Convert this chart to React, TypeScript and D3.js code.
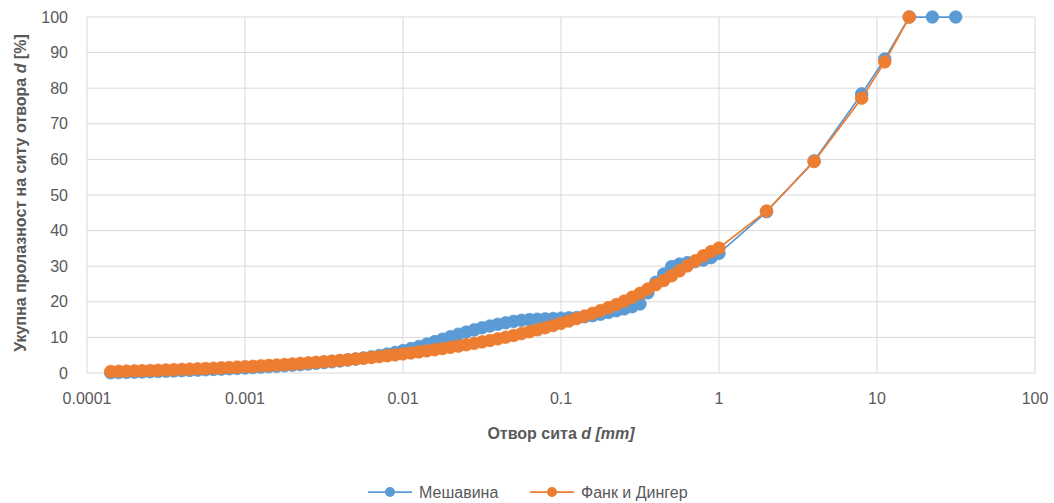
import * as d3 from 'd3';

const fineSizes = [
  1.413e-4, 1.585e-4, 1.778e-4, 1.995e-4, 2.239e-4, 2.512e-4, 2.818e-4, 3.162e-4, 3.548e-4, 3.981e-4,
  4.467e-4, 5.012e-4, 5.623e-4, 6.31e-4, 7.079e-4, 7.943e-4, 8.913e-4,
  0.001, 0.001122, 0.001259, 0.001413, 0.001585, 0.001778, 0.001995, 0.002239, 0.002512, 0.002818,
  0.003162, 0.003548, 0.003981, 0.004467, 0.005012, 0.005623, 0.00631, 0.007079, 0.007943, 0.008913,
  0.01, 0.01122, 0.01259, 0.01413, 0.01585, 0.01778, 0.01995, 0.02239, 0.02512, 0.02818,
  0.03162, 0.03548, 0.03981, 0.04467, 0.05012, 0.05623, 0.0631, 0.07079, 0.07943, 0.08913,
  0.1, 0.1122, 0.1259, 0.1413, 0.1585, 0.1778, 0.1995, 0.2239, 0.2512, 0.2818,
  0.3162, 0.3548, 0.3981, 0.4467, 0.5012, 0.5623, 0.631, 0.7079, 0.7943, 0.8913, 1,
];

const mixFine = [
  0.07, 0.12, 0.18, 0.24, 0.3, 0.37, 0.43, 0.51, 0.58, 0.66,
  0.74, 0.82, 0.91, 1.0, 1.1, 1.2, 1.31,
  1.42, 1.53, 1.65, 1.78, 1.91, 2.05, 2.2, 2.36, 2.53, 2.72,
  2.92, 3.14, 3.38, 3.64, 3.92, 4.22, 4.55, 4.92, 5.32, 5.78,
  6.28, 6.85, 7.45, 8.1, 8.8, 9.5, 10.2, 10.9, 11.5, 12.1,
  12.7, 13.2, 13.7, 14.1, 14.5, 14.8, 15.0, 15.1, 15.2, 15.3,
  15.4, 15.5, 15.6, 15.8, 16.1, 16.5, 17.0, 17.5, 18.0, 18.6,
  19.4, 22.5, 25.5, 27.8, 29.9, 30.6, 31.0, 31.3, 31.7, 32.4, 33.6,
];

const fdFine = [
  0.42, 0.47, 0.53, 0.59, 0.65, 0.72, 0.78, 0.86, 0.93, 1.01,
  1.09, 1.17, 1.26, 1.35, 1.45, 1.55, 1.66,
  1.77, 1.88, 2.0, 2.13, 2.26, 2.39, 2.54, 2.69, 2.84, 3.01,
  3.18, 3.35, 3.54, 3.73, 3.94, 4.15, 4.37, 4.6, 4.84, 5.09,
  5.36, 5.63, 5.92, 6.22, 6.53, 6.86, 7.2, 7.56, 7.93, 8.32,
  8.73, 9.15, 9.6, 10.06, 10.54, 11.06, 11.59, 12.14, 12.72, 13.32,
  13.95, 14.6, 15.29, 16.01, 16.77, 17.54, 18.36, 19.22, 20.2, 21.3,
  22.4, 23.6, 24.8, 26.0, 27.3, 28.7, 30.1, 31.5, 32.9, 34.1, 35.1,
];

// sieve sizes (mm)
const coarseSizes = [2, 4, 8, 11.2, 16, 22.4, 31.5];
const mixCoarse = [45.3, 59.6, 78.4, 88.2, 100, 100, 100];
const fdCoarse = [45.5, 59.4, 77.2, 87.4, 100];

const xTicks = [0.0001, 0.001, 0.01, 0.1, 1, 10, 100];
const yTicks = [0, 10, 20, 30, 40, 50, 60, 70, 80, 90, 100];

const series = [
  {
    name: 'Мешавина',
    color: '#5B9BD5',
    points: [
      ...fineSizes.map((d, i) => [d, mixFine[i]]),
      ...coarseSizes.map((d, i) => [d, mixCoarse[i]]),
    ],
  },
  {
    name: 'Фанк и Дингер',
    color: '#ED7D31',
    points: [
      ...fineSizes.map((d, i) => [d, fdFine[i]]),
      ...fdCoarse.map((v, i) => [coarseSizes[i], v]),
    ],
  },
];

const W = 1054;
const H = 503;
const left = 87;
const right = 1035;
const top = 17;
const bottom = 373;
const font = '"Liberation Sans", Arial, sans-serif';
const textColor = '#595959';

export default function App() {
  const x = d3.scaleLog().domain([0.0001, 100]).range([left, right]);
  const y = d3.scaleLinear().domain([0, 100]).range([bottom, top]);
  const line = d3
    .line<number[]>()
    .x((p) => x(p[0]))
    .y((p) => y(p[1]));

  const fmt = (v: number) => (v < 1 ? v.toFixed(Math.round(-Math.log10(v))) : String(v));

  return (
    <svg
      width={W}
      height={H}
      style={{ position: 'absolute', left: 0, top: 0, background: '#fff' }}
      fontFamily={font}
    >
      <rect width={W} height={H} fill="#fff" />
      {/* grid */}
      {yTicks.map((t) => (
        <line key={'gy' + t} x1={left} x2={right} y1={y(t)} y2={y(t)} stroke="#d9d9d9" strokeWidth={1} />
      ))}
      {xTicks.map((t) => (
        <line key={'gx' + t} x1={x(t)} x2={x(t)} y1={top} y2={bottom} stroke="#d9d9d9" strokeWidth={1} />
      ))}

      {/* tick labels */}
      {yTicks.map((t) => (
        <text key={'ty' + t} x={68} y={y(t)} dy="0.35em" textAnchor="end" fontSize={16} fill={textColor}>
          {t}
        </text>
      ))}
      {xTicks.map((t) => (
        <text key={'tx' + t} x={x(t)} y={404} textAnchor="middle" fontSize={16} fill={textColor}>
          {fmt(t)}
        </text>
      ))}

      {/* axis titles */}
      <text
        transform="translate(26,193) rotate(-90)"
        textAnchor="middle"
        fontSize={16}
        fontWeight="bold"
        fill={textColor}
      >
        Укупна пролазност на ситу отвора <tspan fontStyle="italic">d</tspan> [%]
      </text>
      <text x={561} y={439} textAnchor="middle" fontSize={16} fontWeight="bold" fill={textColor}>
        Отвор сита <tspan fontStyle="italic">d [mm]</tspan>
      </text>

      {/* series */}
      {series.map((s) => (
        <g key={s.name}>
          <path d={line(s.points) || ''} fill="none" stroke={s.color} strokeWidth={1.75} />
          {s.points.map((p, i) => (
            <circle key={i} cx={x(p[0])} cy={y(p[1])} r={6.3} fill={s.color} stroke={s.color} strokeWidth={0.75} />
          ))}
        </g>
      ))}

      {/* legend */}
      {series.map((s, i) => {
        const lx = i === 0 ? 368 : 530;
        return (
          <g key={'lg' + s.name} transform={`translate(${lx},492)`}>
            <line x1={0} x2={44} y1={0} y2={0} stroke={s.color} strokeWidth={1.75} />
            <circle cx={22} cy={0} r={5} fill={s.color} />
            <text x={51} y={0} dy="0.35em" fontSize={16} fill={textColor}>
              {s.name}
            </text>
          </g>
        );
      })}
    </svg>
  );
}
